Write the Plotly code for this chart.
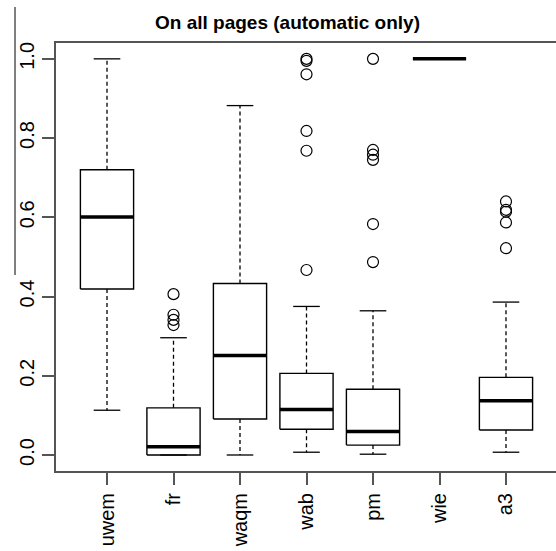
import plotly.graph_objects as go

# Summary statistics per method (share of pages, 0..1)
methods = ["uwem", "fr", "waqm", "wab", "pm", "wie", "a3"]
whisker_low = [0.113, 0.000, 0.000, 0.007, 0.002, 1.000, 0.007]
q1 = [0.419, 0.000, 0.091, 0.065, 0.025, 1.000, 0.063]
median = [0.601, 0.021, 0.251, 0.115, 0.059, 1.000, 0.137]
q3 = [0.720, 0.119, 0.433, 0.206, 0.166, 1.000, 0.196]
whisker_high = [1.000, 0.296, 0.882, 0.375, 0.364, 1.000, 0.386]
outliers = [
    [],
    [0.406, 0.354, 0.341, 0.328],
    [],
    [1.000, 0.995, 0.961, 0.818, 0.768, 0.467],
    [1.000, 0.770, 0.758, 0.745, 0.583, 0.487],
    [],
    [0.640, 0.619, 0.614, 0.587, 0.522],
]

BOX_HALF = 0.4
CAP_HALF = 0.2
FRAME = "#555555"
FONT = "Liberation Sans, Arial, sans-serif"

W, H = 556, 551
M_L, M_R, M_T, M_B = 56, 0, 43, 80
PLOT_W, PLOT_H = W - M_L - M_R, H - M_T - M_B

positions = list(range(1, len(methods) + 1))

box_x, box_y = [], []
med_x, med_y = [], []
wh_x, wh_y = [], []
cap_x, cap_y = [], []
out_x, out_y = [], []
for p, lo, a, m, b, hi, outs in zip(positions, whisker_low, q1, median, q3,
                                     whisker_high, outliers):
    box_x += [p - BOX_HALF, p + BOX_HALF, p + BOX_HALF, p - BOX_HALF, p - BOX_HALF, None]
    box_y += [a, a, b, b, a, None]
    med_x += [p - BOX_HALF, p + BOX_HALF, None]
    med_y += [m, m, None]
    wh_x += [p, p, None, p, p, None]
    wh_y += [b, hi, None, a, lo, None]
    cap_x += [p - CAP_HALF, p + CAP_HALF, None, p - CAP_HALF, p + CAP_HALF, None]
    cap_y += [hi, hi, None, lo, lo, None]
    out_x += [p] * len(outs)
    out_y += outs

fig = go.Figure()
fig.add_trace(go.Scatter(x=wh_x, y=wh_y, mode="lines",
                         line=dict(color="black", width=1.3, dash="4px,3px")))
fig.add_trace(go.Scatter(x=cap_x, y=cap_y, mode="lines",
                         line=dict(color="black", width=1.3)))
fig.add_trace(go.Scatter(x=box_x, y=box_y, mode="lines",
                         line=dict(color="black", width=1.4)))
fig.add_trace(go.Scatter(x=med_x, y=med_y, mode="lines",
                         line=dict(color="black", width=3.5)))
fig.add_trace(go.Scatter(x=out_x, y=out_y, mode="markers",
                         marker=dict(symbol="circle-open", size=11,
                                     color="black", line=dict(width=1.2))))


def px_to_paper_x(px):
    return (px - M_L) / PLOT_W


def px_to_paper_y(py):
    return 1 - (py - M_T) / PLOT_H


# thin rule at the left edge of the page
fig.add_shape(type="line", xref="paper", yref="paper",
              x0=px_to_paper_x(15), x1=px_to_paper_x(15),
              y0=px_to_paper_y(7), y1=px_to_paper_y(275),
              line=dict(color="black", width=1))

fig.update_layout(
    width=W, height=H,
    margin=dict(l=M_L, r=M_R, t=M_T, b=M_B),
    paper_bgcolor="white", plot_bgcolor="white",
    showlegend=False,
    font=dict(family=FONT, color="black"),
    title=dict(text="<b>On all pages (automatic only)</b>",
               x=287.5 / W, xanchor="center", xref="container",
               y=1 - 22 / H, yanchor="middle", yref="container",
               font=dict(size=19, family=FONT, color="black")),
    xaxis=dict(range=[0.233, 7.752], tickmode="array", tickvals=positions,
               ticktext=methods, tickangle=-90, ticks="outside", ticklen=12,
               tickcolor=FRAME, tickwidth=1.5, showline=True, linecolor=FRAME,
               linewidth=2, mirror=True, showgrid=False, zeroline=False,
               tickfont=dict(size=20, family=FONT, color="black")),
    yaxis=dict(range=[-0.0404, 1.040], tickmode="array",
               tickvals=[0, 0.2, 0.4, 0.6, 0.8, 1.0],
               ticktext=["0.0", "0.2", "0.4", "0.6", "0.8", "1.0"],
               tickangle=-90, ticks="outside", ticklen=12, tickcolor=FRAME,
               tickwidth=1.5, showline=True, linecolor=FRAME, linewidth=2,
               mirror=False, showgrid=False, zeroline=False,
               tickfont=dict(size=20, family=FONT, color="black")),
)

fig.write_html("out.html")
